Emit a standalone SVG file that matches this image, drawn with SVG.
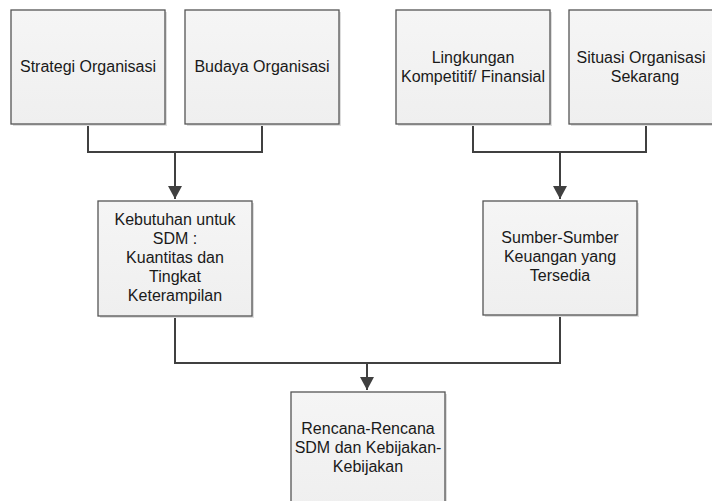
<svg xmlns="http://www.w3.org/2000/svg" width="712" height="501" viewBox="0 0 712 501">
<defs>
<linearGradient id="g" x1="0" y1="0" x2="0" y2="1">
<stop offset="0" stop-color="#f5f5f5"/>
<stop offset="1" stop-color="#efefef"/>
</linearGradient>
<marker id="ah" markerWidth="14" markerHeight="14" refX="7" refY="13" orient="0" markerUnits="userSpaceOnUse">
<path d="M0,0 L14,0 L7,13 Z" fill="#404040"/>
</marker>
</defs>
<style>
.box{fill:url(#g);stroke:#555555;stroke-width:1.3}
.sh{fill:#dddddd}
.t{font-family:"Liberation Sans",Arial,sans-serif;font-size:16px;fill:#1a1a1a;text-anchor:middle}
.c{fill:none;stroke:#404040;stroke-width:2}
</style>
<rect width="712" height="501" fill="#ffffff"/>
<g id="connectors">
<path class="c" d="M88,124 V152 H262 V124"/>
<path class="c" d="M175,152 V199" marker-end="url(#ah)"/>
<path class="c" d="M473,124 V152 H646 V124"/>
<path class="c" d="M560,152 V199" marker-end="url(#ah)"/>
<path class="c" d="M175,316 V363 H560 V315"/>
<path class="c" d="M367,363 V390" marker-end="url(#ah)"/>
</g>
<g id="n1">
<rect class="sh" x="13" y="12" width="154" height="114"/>
<rect class="box" x="11" y="10" width="154" height="114"/>
<text class="t" x="88" y="72">Strategi Organisasi</text>
</g>
<g id="n2">
<rect class="sh" x="187" y="12" width="154" height="114"/>
<rect class="box" x="185" y="10" width="154" height="114"/>
<text class="t" x="262" y="72">Budaya Organisasi</text>
</g>
<g id="n3">
<rect class="sh" x="398" y="12" width="154" height="114"/>
<rect class="box" x="396" y="10" width="154" height="114"/>
<text class="t" x="473" y="63">Lingkungan</text>
<text class="t" x="473" y="82">Kompetitif/ Finansial</text>
</g>
<g id="n4">
<rect class="sh" x="571" y="12" width="154" height="114"/>
<rect class="box" x="569" y="10" width="154" height="114"/>
<text class="t" x="641" y="63">Situasi Organisasi</text>
<text class="t" x="645" y="82">Sekarang</text>
</g>
<g id="n5">
<rect class="sh" x="100" y="203" width="154" height="115"/>
<rect class="box" x="98" y="201" width="154" height="115"/>
<text class="t" x="175" y="225">Kebutuhan untuk</text>
<text class="t" x="175" y="244">SDM :</text>
<text class="t" x="175" y="263">Kuantitas dan</text>
<text class="t" x="175" y="282">Tingkat</text>
<text class="t" x="175" y="301">Keterampilan</text>
</g>
<g id="n6">
<rect class="sh" x="485" y="203" width="154" height="114"/>
<rect class="box" x="483" y="201" width="154" height="114"/>
<text class="t" x="560" y="243">Sumber-Sumber</text>
<text class="t" x="560" y="262">Keuangan yang</text>
<text class="t" x="560" y="281">Tersedia</text>
</g>
<g id="n7">
<rect class="sh" x="293" y="394" width="154" height="114"/>
<rect class="box" x="291" y="392" width="154" height="114"/>
<text class="t" x="368" y="434">Rencana-Rencana</text>
<text class="t" x="368" y="453">SDM dan Kebijakan-</text>
<text class="t" x="368" y="472">Kebijakan</text>
</g>
</svg>
